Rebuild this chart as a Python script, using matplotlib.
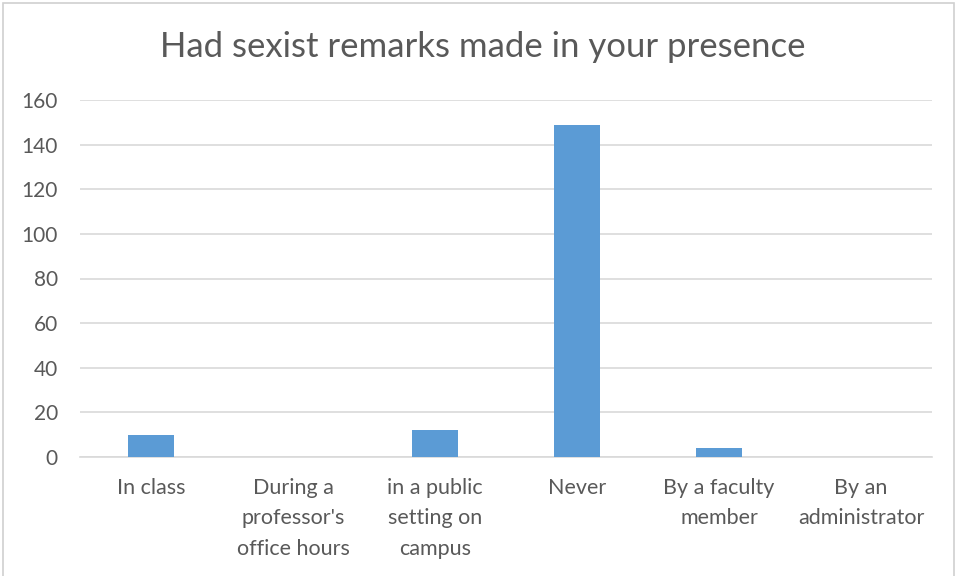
import matplotlib.pyplot as plt
from matplotlib.patches import Rectangle

categories = ["In class", "During a\nprofessor's\noffice hours", "in a public\nsetting on\ncampus",
              "Never", "By a faculty\nmember", "By an\nadministrator"]
counts = [10, 0, 12, 149, 4, 0]
yticks = [0, 20, 40, 60, 80, 100, 120, 140, 160]

plt.rcParams['font.family'] = ['Lato', 'DejaVu Sans']

fig = plt.figure(figsize=(9.62, 5.76), dpi=100)
ax = fig.add_axes([80 / 962, 1 - 457 / 576, 852 / 962, 357 / 576])

x = list(range(len(categories)))
ax.bar(x, counts, width=0.32, color='#5b9bd5', zorder=3)

ax.set_xlim(-0.5, len(categories) - 0.5)
ax.set_ylim(0, 160)
ax.set_yticks(yticks)
ax.set_xticks(x)
ax.set_xticklabels(categories, fontsize=15.5, color='#595959', linespacing=1.65, va='top')
ax.tick_params(axis='y', labelsize=15, labelcolor='#595959', length=0, pad=16)
ax.tick_params(axis='x', length=0, pad=15)
for lbl in ax.get_yticklabels():
    lbl.set_horizontalalignment('right')

ax.grid(axis='y', color='#d9d9d9', linewidth=1.2, zorder=0)
for s in ['top', 'right', 'left']:
    ax.spines[s].set_visible(False)
ax.spines['bottom'].set_color('#d9d9d9')
ax.spines['bottom'].set_linewidth(1.2)

fig.text(483 / 962, 1 - 47 / 576, "Had sexist remarks made in your presence",
         ha='center', va='center', fontsize=25, color='#595959')

# chart frame
fig.patches.append(Rectangle((3 / 962, -0.01), 951 / 962, 1 - 3 / 576 + 0.01,
                             transform=fig.transFigure, fill=False,
                             edgecolor='#d0d0d0', linewidth=1.2))

fig.savefig('out.png', dpi=100)
